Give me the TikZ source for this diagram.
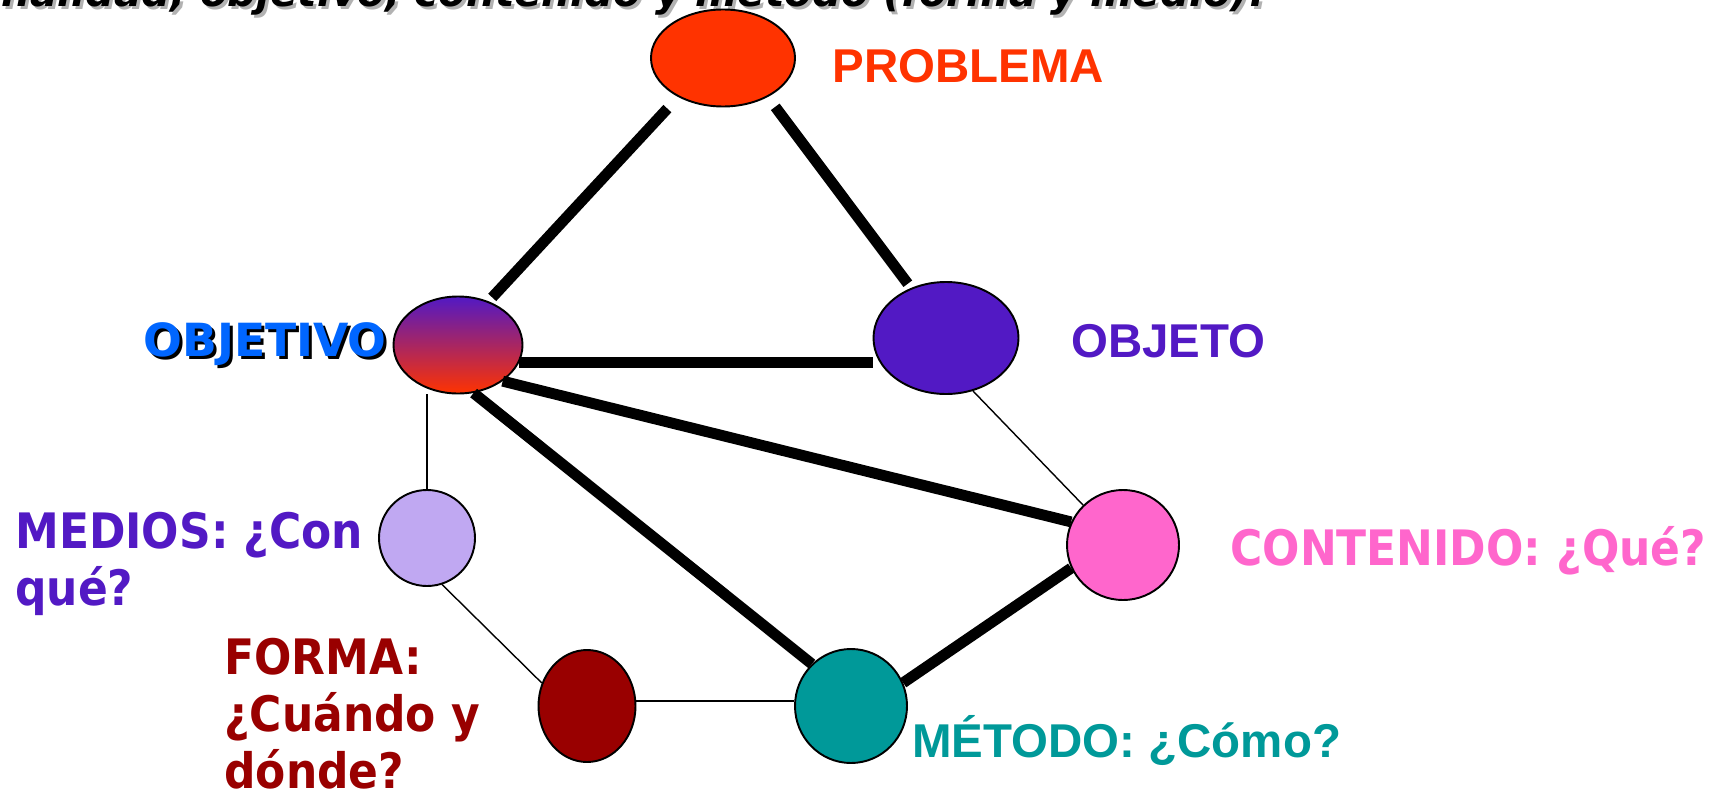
\documentclass[tikz,border=0pt]{standalone}
\usepackage{fontspec}
\setmainfont{Liberation Sans}
\newfontfamily\verdana{DejaVu Sans}
\newfontfamily\tahoma[FakeStretch=0.9]{DejaVu Sans}
\usetikzlibrary{shapes.geometric,positioning}

\definecolor{problemared}{HTML}{FF3300}
\definecolor{objetoviolet}{HTML}{5219C4}
\definecolor{objetivoblue}{HTML}{0066FF}
\definecolor{mediosfill}{HTML}{C0A8F2}
\definecolor{contenidopink}{HTML}{FF66CC}
\definecolor{formared}{HTML}{990000}
\definecolor{metodoteal}{HTML}{009999}

\tikzset{
  blob/.style={ellipse, draw=black, line width=1.1pt, inner sep=0pt},
  bond/.style={line width=6.2pt},
  tie/.style={line width=0.8pt},
  lbl/.style={inner sep=0pt, anchor=base west,
    font=\bfseries\fontsize{27}{32}\selectfont},
  qlbl/.style={inner sep=0pt, anchor=base west, align=left,
    font=\tahoma\bfseries\fontsize{27.8}{32.4}\selectfont},
}

\begin{document}
\begin{tikzpicture}[x=0.2mm,y=-0.2mm]
  \useasboundingbox (0,0) rectangle (1723,792);

  % title line, cut off at the top
  \node[anchor=base east, inner sep=0pt, text=black!30,
    font=\verdana\bfseries\itshape\fontsize{23}{28}\selectfont]
    (titleshadow) at (1268,10) {finalidad, objetivo, contenido y método (forma y medio).};
  \node[anchor=base east, inner sep=0pt,
    font=\verdana\bfseries\itshape\fontsize{23}{28}\selectfont]
    (title) at (1265,7) {finalidad, objetivo, contenido y método (forma y medio).};

  \node[blob, fill=problemared, minimum width=28.8mm, minimum height=19.4mm]
    (problema) at (723,58) {};
  \node[blob, top color=objetoviolet, bottom color=problemared,
    minimum width=25.8mm, minimum height=19.4mm] (objetivo) at (458,345) {};
  \node[blob, fill=objetoviolet, minimum width=29mm, minimum height=22.4mm]
    (objeto) at (946,338) {};
  \node[blob, fill=mediosfill, minimum width=19.2mm, minimum height=19.2mm]
    (medios) at (427,538) {};
  \node[blob, fill=contenidopink, minimum width=22.4mm, minimum height=22mm]
    (contenido) at (1123,545) {};
  \node[blob, fill=formared, minimum width=19.4mm, minimum height=22.4mm]
    (forma) at (587,706) {};
  \node[blob, fill=metodoteal, minimum width=22.4mm, minimum height=22.8mm]
    (metodo) at (851,706) {};

  \draw[bond, shorten <=9pt, shorten >=3pt] (problema.221) -- (objetivo.55);
  \draw[bond, shorten <=7pt, shorten >=3pt] (problema.319) -- (objeto.125);
  \draw[bond] (objetivo.-16) -- (objetivo.-16 -| objeto.west);
  \draw[bond] (objetivo.-39) -- (contenido.156);
  \draw[bond] (objetivo.-72) -- (metodo.133);
  \draw[bond] (metodo.24) -- (contenido.204);
  \draw[tie] (medios.north) -- (medios.north |- objetivo.south);
  \draw[tie] (objeto.-63) -- (contenido.135);
  \draw[tie] (medios.-72) -- (forma.153);
  \draw[tie] (forma.6) -- (forma.6 -| metodo.west);

  \node[lbl, text=problemared] (problemalbl) at (832,83) {PROBLEMA};
  \node[lbl, text=objetoviolet] (objetolbl) at (1071,357) {OBJETO};
  \node[lbl, text=metodoteal] (metodolbl) at (912,757) {MÉTODO: ¿Cómo?};
  \node[lbl, text=black, font=\verdana\bfseries\fontsize{26}{32}\selectfont]
    (objetivoshadow) at (146,359) {OBJETIVO};
  \node[lbl, text=objetivoblue, font=\verdana\bfseries\fontsize{26}{32}\selectfont]
    (objetivolbl) at (143,356) {OBJETIVO};
  % multi-line labels sit on their last baseline
  \node[qlbl, text=objetoviolet] (medioslbl) at (15,605) {MEDIOS: ¿Con\\qué?};
  \node[qlbl, text=contenidopink] (contenidolbl) at (1230,565) {CONTENIDO: ¿Qué?};
  \node[qlbl, text=formared] (formalbl) at (224,788) {FORMA:\\¿Cuándo y\\dónde?};
\end{tikzpicture}
\end{document}
